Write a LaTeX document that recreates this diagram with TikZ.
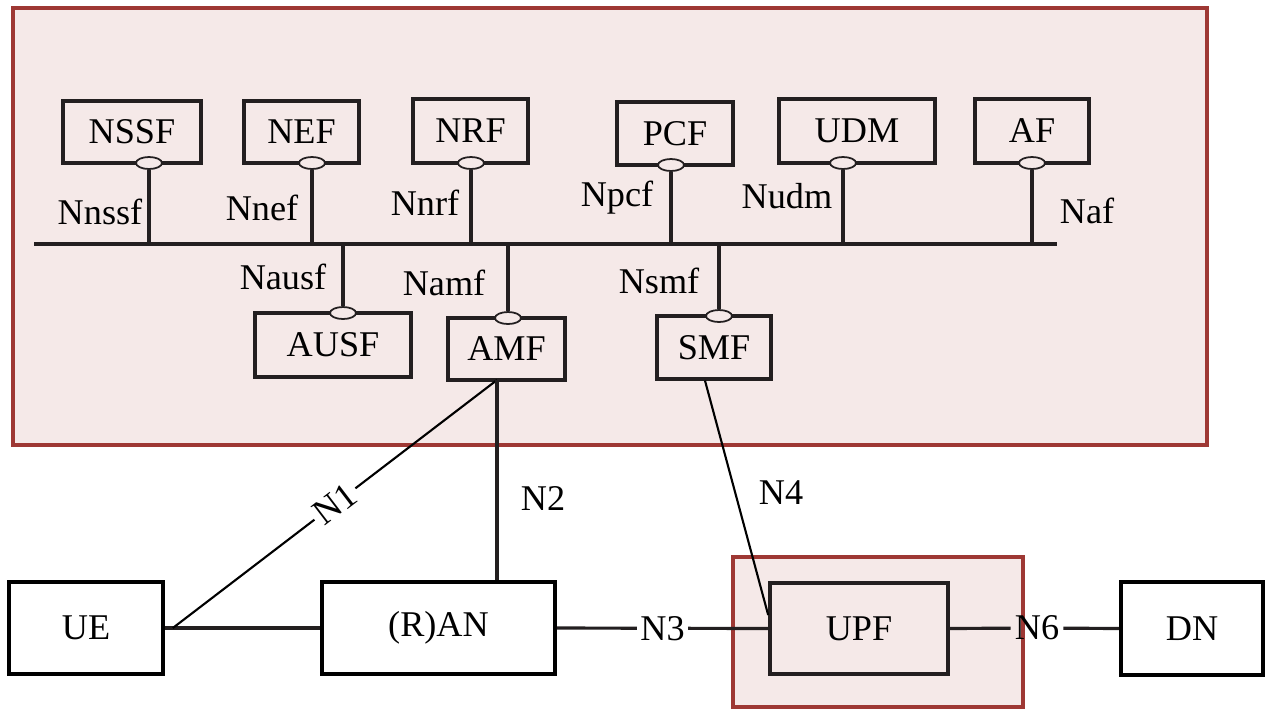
\documentclass[tikz,border=0pt]{standalone}
\usepackage{fontspec}
\setmainfont{Liberation Serif}
\usetikzlibrary{positioning, shapes.geometric}
\definecolor{CoreRed}{RGB}{158, 56, 52}
\definecolor{CorePink}{RGB}{245, 233, 232}
\definecolor{LineDark}{RGB}{35, 31, 32}

\begin{document}
\begin{tikzpicture}[x=0.01cm, y=-0.01cm,
		nf/.style={draw=LineDark, line width=0.9pt, fill=CorePink, inner sep=0pt, font=\fontsize{10.3}{12}\selectfont},
		ext/.style={draw=black, line width=1pt, fill=white, inner sep=0pt, font=\fontsize{10.3}{12}\selectfont},
		port/.style={ellipse, draw=LineDark, line width=0.5pt, fill=CorePink, minimum width=0.26cm, minimum height=0.12cm, inner sep=0pt},
		lbl/.style={font=\fontsize{10.3}{12}\selectfont, inner sep=1pt},
		ln/.style={draw=LineDark, line width=0.9pt},
		slim/.style={draw=black, line width=0.6pt},
		area/.style={draw=CoreRed, line width=1.2pt, fill=CorePink}]
	\useasboundingbox (0,0) rectangle (1266,708);

	% Areas
	\draw[area] (13,8) rectangle (1207,445);
	\draw[area] (733,557) rectangle (1023,707);

	% Control plane
	\node[nf, minimum width=1.38cm, minimum height=0.62cm] (nssf) at (132,132) {NSSF};
	\node[nf, minimum width=1.15cm, minimum height=0.62cm] (nef) at (301.5,132) {NEF};
	\node[nf, minimum width=1.15cm, minimum height=0.64cm] (nrf) at (470.5,131) {NRF};
	\node[nf, minimum width=1.16cm, minimum height=0.63cm] (pcf) at (675,133.5) {PCF};
	\node[nf, minimum width=1.56cm, minimum height=0.64cm] (udm) at (857,131) {UDM};
	\node[nf, minimum width=1.14cm, minimum height=0.64cm] (af) at (1032,131) {AF};
	\node[nf, minimum width=1.56cm, minimum height=0.64cm] (ausf) at (333,345) {AUSF};
	\node[nf, minimum width=1.17cm, minimum height=0.62cm] (amf) at (506.5,349) {AMF};
	\node[nf, minimum width=1.14cm, minimum height=0.63cm] (smf) at (714,347.5) {SMF};

	% Bus
	\coordinate (busL) at (34,244);
	\coordinate (busR) at (1057,244);
	\draw[ln] (busL) -- (busR);

	\node[port] (pnssf) at (149,163) {};
	\node[port] (pnef) at (312,163) {};
	\node[port] (pnrf) at (471,163) {};
	\node[port] (ppcf) at (671,165) {};
	\node[port] (pudm) at (843,163) {};
	\node[port] (paf) at (1032,163) {};
	\node[port] (pausf) at (343,313) {};
	\node[port] (pamf) at (508,318) {};
	\node[port] (psmf) at (719,316) {};
	\draw[ln] (pnssf) -- (pnssf |- busL);
	\draw[ln] (pnef) -- (pnef |- busL);
	\draw[ln] (pnrf) -- (pnrf |- busL);
	\draw[ln] (ppcf) -- (ppcf |- busL);
	\draw[ln] (pudm) -- (pudm |- busL);
	\draw[ln] (paf) -- (paf |- busL);
	\draw[ln] (pausf) -- (pausf |- busL);
	\draw[ln] (pamf) -- (pamf |- busL);
	\draw[ln] (psmf) -- (psmf |- busL);

	\node[lbl] (lnssf) at (100,212) {Nnssf};
	\node[lbl] (lnef) at (262,208) {Nnef};
	\node[lbl] (lnrf) at (425,203) {Nnrf};
	\node[lbl] (lpcf) at (617,198) {Npcf};
	\node[lbl] (ludm) at (787,196) {Nudm};
	\node[lbl] (laf) at (1087,211) {Naf};
	\node[lbl] (lausf) at (283,277) {Nausf};
	\node[lbl] (lamf) at (444,283) {Namf};
	\node[lbl] (lsmf) at (659,281) {Nsmf};

	% User plane
	\node[ext, minimum width=1.54cm, minimum height=0.92cm] (ue) at (86,628) {UE};
	\node[ext, minimum width=2.33cm, minimum height=0.92cm] (ran) at (438.5,628) {(R)AN};
	\node[nf, line width=1pt, minimum width=1.78cm, minimum height=0.91cm] (upf) at (859,628.5) {UPF};
	\node[ext, minimum width=1.42cm, minimum height=0.93cm] (dn) at (1192,628.5) {DN};

	\coordinate (amfb) at (497,380);
	\draw[ln] (ue.east) -- (ran.west);
	\draw[slim] ([xshift=0.08cm]ue.east) -- node[lbl, sloped, fill=white] {N1} (amfb);
	\draw[ln] (amfb) -- (amfb |- ran.north);
	\node[lbl] (ln2) at (543,498) {N2};
	\draw[ln] (ran.east) -- node[lbl, fill=white] {N3} (upf.west);
	\draw[slim] ([xshift=-0.09cm]smf.south) -- ([yshift=0.135cm]upf.west);
	\node[lbl] (ln4) at (781,493) {N4};
	\node[lbl] (n6) at (1037,628) {N6};
	\draw[ln] (upf.east) -- (n6);
	\draw[ln] (n6) -- (dn.west);
\end{tikzpicture}
\end{document}
